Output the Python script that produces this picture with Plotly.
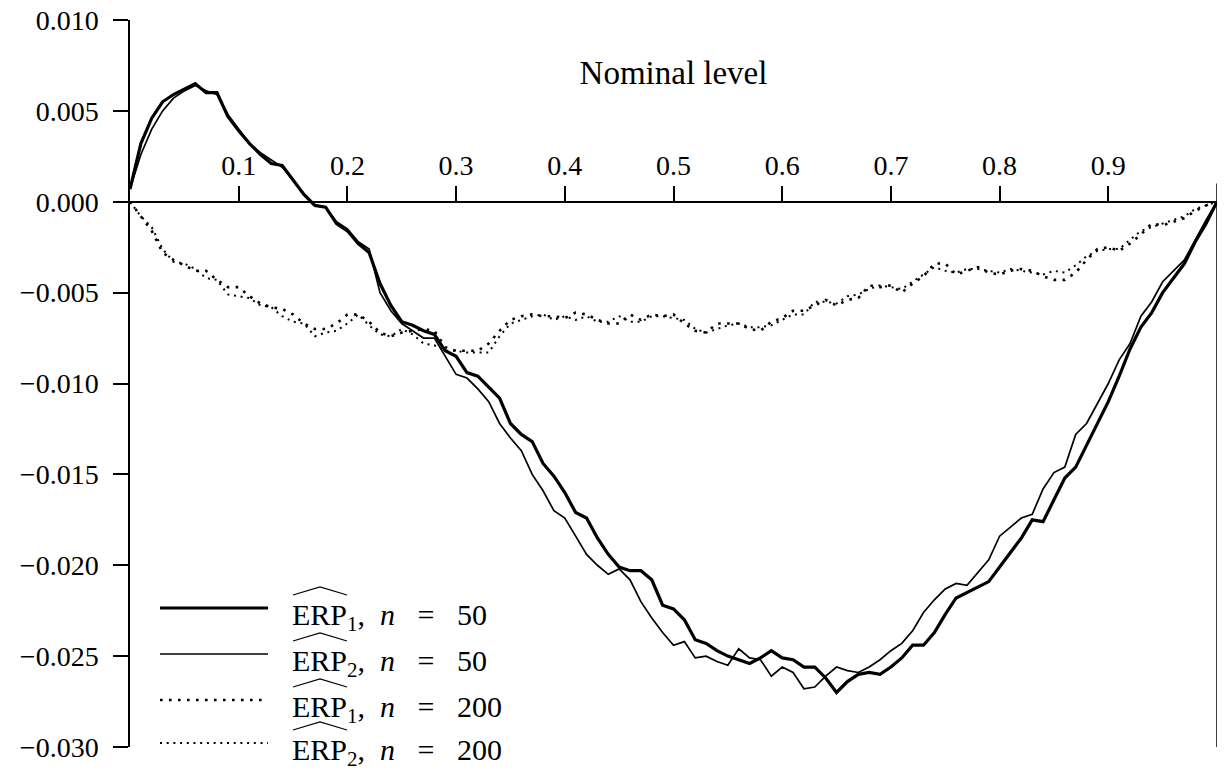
import plotly.graph_objects as go

# ---------------- data ----------------
nominal_level = [i / 100 for i in range(101)]

erp1_n50 = [
    0.0007, 0.0032, 0.0046, 0.0055, 0.0059, 0.0062, 0.0065, 0.0060, 0.0060, 0.0047,
    0.0039, 0.0032, 0.0026, 0.0021, 0.0020, 0.0012, 0.0004, -0.0002, -0.0003, -0.0012,
    -0.0016, -0.0023, -0.0028, -0.0045, -0.0057, -0.0066, -0.0068, -0.0071, -0.0073, -0.0082,
    -0.0085, -0.0094, -0.0096, -0.0102, -0.0108, -0.0122, -0.0128, -0.0132, -0.0144, -0.0151,
    -0.0160, -0.0171, -0.0174, -0.0185, -0.0194, -0.0201, -0.0203, -0.0203, -0.0208, -0.0222,
    -0.0224, -0.0230, -0.0241, -0.0243, -0.0247, -0.0250, -0.0252, -0.0254, -0.0251, -0.0247,
    -0.0251, -0.0252, -0.0256, -0.0256, -0.0262, -0.0270, -0.0264, -0.0260, -0.0259, -0.0260,
    -0.0256, -0.0251, -0.0244, -0.0244, -0.0237, -0.0227, -0.0218, -0.0215, -0.0212, -0.0209,
    -0.0201, -0.0193, -0.0185, -0.0175, -0.0176, -0.0164, -0.0152, -0.0146, -0.0134, -0.0122,
    -0.0110, -0.0096, -0.0081, -0.0069, -0.0061, -0.0050, -0.0042, -0.0034, -0.0022, -0.0012,
    0.0000,
]

erp2_n50 = [
    0.0007, 0.0026, 0.0040, 0.0050, 0.0057, 0.0061, 0.0064, 0.0061, 0.0059, 0.0048,
    0.0040, 0.0032, 0.0027, 0.0023, 0.0019, 0.0012, 0.0004, -0.0002, -0.0003, -0.0011,
    -0.0015, -0.0022, -0.0026, -0.0050, -0.0060, -0.0067, -0.0071, -0.0075, -0.0075, -0.0085,
    -0.0095, -0.0097, -0.0103, -0.0110, -0.0122, -0.0130, -0.0137, -0.0150, -0.0159, -0.0170,
    -0.0174, -0.0184, -0.0194, -0.0200, -0.0205, -0.0202, -0.0208, -0.0220, -0.0229, -0.0237,
    -0.0244, -0.0242, -0.0251, -0.0250, -0.0253, -0.0255, -0.0246, -0.0251, -0.0252, -0.0261,
    -0.0256, -0.0259, -0.0268, -0.0267, -0.0261, -0.0256, -0.0258, -0.0259, -0.0256, -0.0252,
    -0.0247, -0.0243, -0.0236, -0.0226, -0.0219, -0.0213, -0.0210, -0.0211, -0.0204, -0.0197,
    -0.0184, -0.0179, -0.0174, -0.0172, -0.0158, -0.0149, -0.0146, -0.0128, -0.0122, -0.0111,
    -0.0100, -0.0087, -0.0078, -0.0063, -0.0055, -0.0044, -0.0038, -0.0032, -0.0021, -0.0010,
    0.0000,
]

erp1_n200 = [
    0.0000, -0.0008, -0.0016, -0.0028, -0.0032, -0.0035, -0.0038, -0.0038, -0.0043, -0.0047,
    -0.0047, -0.0052, -0.0056, -0.0058, -0.0059, -0.0062, -0.0067, -0.0070, -0.0070, -0.0067,
    -0.0062, -0.0062, -0.0066, -0.0072, -0.0074, -0.0072, -0.0071, -0.0070, -0.0071, -0.0080,
    -0.0082, -0.0082, -0.0082, -0.0078, -0.0071, -0.0065, -0.0063, -0.0062, -0.0063, -0.0063,
    -0.0064, -0.0061, -0.0062, -0.0065, -0.0067, -0.0067, -0.0062, -0.0065, -0.0062, -0.0063,
    -0.0062, -0.0067, -0.0071, -0.0072, -0.0067, -0.0067, -0.0067, -0.0070, -0.0071, -0.0066,
    -0.0064, -0.0060, -0.0060, -0.0057, -0.0054, -0.0057, -0.0054, -0.0053, -0.0046, -0.0047,
    -0.0046, -0.0050, -0.0045, -0.0041, -0.0034, -0.0034, -0.0040, -0.0038, -0.0036, -0.0039,
    -0.0040, -0.0038, -0.0037, -0.0038, -0.0041, -0.0043, -0.0043, -0.0039, -0.0032, -0.0026,
    -0.0025, -0.0027, -0.0023, -0.0018, -0.0012, -0.0013, -0.0011, -0.0009, -0.0005, -0.0002,
    0.0000,
]

erp2_n200 = [
    0.0000, -0.0008, -0.0014, -0.0026, -0.0033, -0.0034, -0.0037, -0.0042, -0.0043, -0.0051,
    -0.0052, -0.0053, -0.0057, -0.0058, -0.0063, -0.0066, -0.0067, -0.0074, -0.0072, -0.0071,
    -0.0067, -0.0062, -0.0068, -0.0073, -0.0074, -0.0070, -0.0073, -0.0078, -0.0079, -0.0082,
    -0.0082, -0.0083, -0.0083, -0.0083, -0.0074, -0.0067, -0.0065, -0.0063, -0.0062, -0.0065,
    -0.0063, -0.0065, -0.0063, -0.0066, -0.0066, -0.0063, -0.0066, -0.0066, -0.0063, -0.0063,
    -0.0064, -0.0065, -0.0070, -0.0072, -0.0070, -0.0068, -0.0067, -0.0069, -0.0069, -0.0068,
    -0.0065, -0.0062, -0.0062, -0.0055, -0.0055, -0.0056, -0.0052, -0.0051, -0.0048, -0.0046,
    -0.0047, -0.0048, -0.0044, -0.0040, -0.0036, -0.0038, -0.0039, -0.0037, -0.0037, -0.0038,
    -0.0039, -0.0037, -0.0038, -0.0039, -0.0040, -0.0038, -0.0039, -0.0035, -0.0030, -0.0027,
    -0.0026, -0.0026, -0.0021, -0.0016, -0.0014, -0.0012, -0.0010, -0.0008, -0.0004, -0.0002,
    0.0000,
]

x_tick_vals = [0.1, 0.2, 0.3, 0.4, 0.5, 0.6, 0.7, 0.8, 0.9]
x_tick_text = ["0.1", "0.2", "0.3", "0.4", "0.5", "0.6", "0.7", "0.8", "0.9"]
y_tick_vals = [0.010, 0.005, 0.000, -0.005, -0.010, -0.015, -0.020, -0.025, -0.030]

series_names = [
    "ERP<sub>1</sub>,&nbsp;&nbsp;<i>n</i>&nbsp;&nbsp;&nbsp;=&nbsp;&nbsp;&nbsp;50",
    "ERP<sub>2</sub>,&nbsp;&nbsp;<i>n</i>&nbsp;&nbsp;&nbsp;=&nbsp;&nbsp;&nbsp;50",
    "ERP<sub>1</sub>,&nbsp;&nbsp;<i>n</i>&nbsp;&nbsp;&nbsp;=&nbsp;&nbsp;&nbsp;200",
    "ERP<sub>2</sub>,&nbsp;&nbsp;<i>n</i>&nbsp;&nbsp;&nbsp;=&nbsp;&nbsp;&nbsp;200",
]

# ---------------- styling ----------------
FONT = "Liberation Serif"
W, H = 1225, 772
ML, MR, MT, MB = 130, 8, 20, 25
PW, PH = W - ML - MR, H - MT - MB

styles = [
    dict(color="black", width=3.2),
    dict(color="black", width=1.7),
    dict(color="black", width=2.6, dash="2.6px,6.4px"),
    dict(color="black", width=2.0, dash="2px,4.7px"),
]
series = [erp1_n50, erp2_n50, erp1_n200, erp2_n200]

fig = go.Figure()
for name, ys, st in zip(series_names, series, styles):
    fig.add_trace(go.Scatter(x=nominal_level, y=ys, mode="lines", name=name,
                             line=st, showlegend=False))


def px2paper(px, py):
    return (px - ML) / PW, 1 - (py - MT) / PH


shapes = []
annotations = []
# right-hand vertical line at nominal level 1
shapes.append(dict(type="line", xref="x", yref="y", x0=1, x1=1, y0=-0.030, y1=0.001,
                   line=dict(color="black", width=1.5)))

# manual legend
legend_line_y = [608, 654, 700, 743]
for i, (name, st) in enumerate(zip(series_names, styles)):
    ly = legend_line_y[i]
    x0, y0 = px2paper(160, ly)
    x1, _ = px2paper(268, ly)
    shapes.append(dict(type="line", xref="paper", yref="paper", x0=x0, x1=x1, y0=y0, y1=y0,
                       line=st))
    tx, ty = px2paper(290, ly + 9)
    annotations.append(dict(xref="paper", yref="paper", x=tx, y=ty, xanchor="left",
                            yanchor="middle", text=name, showarrow=False,
                            font=dict(family=FONT, size=30, color="black")))
    # wide hat over "ERP"
    ax, ay = px2paper(293, ly - 13)
    bx, by = px2paper(320, ly - 21)
    cx, cy = px2paper(347, ly - 13)
    shapes.append(dict(type="path", xref="paper", yref="paper",
                       path=f"M {ax},{ay} L {bx},{by} L {cx},{cy}",
                       line=dict(color="black", width=1.2)))

fig.update_layout(
    width=W, height=H,
    margin=dict(l=ML, r=MR, t=MT, b=MB, autoexpand=False),
    paper_bgcolor="white", plot_bgcolor="white",
    font=dict(family=FONT, size=28, color="black"),
    shapes=shapes, annotations=annotations,
    xaxis=dict(range=[0, 1], anchor="free", position=0.75, side="top",
               showline=True, linecolor="black", linewidth=1.5,
               ticks="outside", ticklen=15, tickwidth=1.5, tickcolor="black",
               tickvals=x_tick_vals, ticktext=x_tick_text,
               tickfont=dict(family=FONT, size=28),
               showgrid=False, zeroline=False,
               title=dict(text="Nominal level", standoff=54,
                          font=dict(family=FONT, size=33))),
    yaxis=dict(range=[-0.030, 0.010], showline=True, linecolor="black", linewidth=1.5,
               ticks="outside", ticklen=15, tickwidth=1.5, tickcolor="black",
               tickvals=y_tick_vals, tickformat=".3f", ticklabelstandoff=9,
               tickfont=dict(family=FONT, size=28),
               showgrid=False, zeroline=False),
)

fig.write_html("out.html")
